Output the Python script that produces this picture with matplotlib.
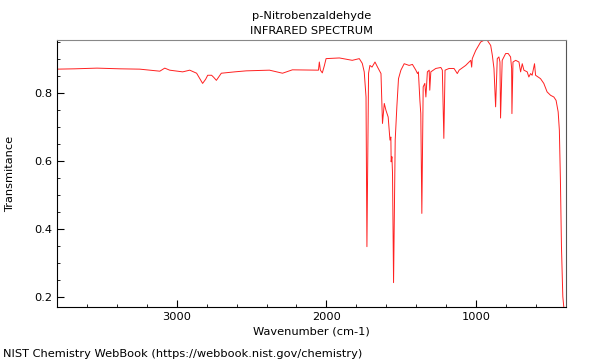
import matplotlib
matplotlib.use("Agg")
from matplotlib import pyplot as plt
from matplotlib import ticker

# spectrum (wavenumber cm-1, transmittance)
wavenumber = [3800, 3680, 3533, 3380, 3247, 3113, 3080, 3047, 2960, 2913,
              2867, 2827, 2807, 2793, 2767, 2753, 2735, 2702, 2613, 2535,
              2380, 2293, 2227, 2069, 2053, 2047, 2040, 2027, 2013, 2002,
              1913, 1827, 1780, 1760, 1747, 1735, 1729, 1718, 1709, 1695,
              1675, 1658, 1635, 1625, 1613, 1602, 1587, 1575, 1569, 1567,
              1562, 1558, 1551, 1540, 1529, 1518, 1502, 1480, 1447, 1425,
              1402, 1391, 1385, 1375, 1369, 1362, 1353, 1342, 1335, 1325,
              1313, 1309, 1302, 1269, 1235, 1225, 1215, 1207, 1180, 1147,
              1125, 1113, 1069, 1035, 1029, 1025, 1002, 969, 947, 925,
              902, 891, 880, 869, 858, 847, 840, 836, 825, 802,
              785, 769, 762, 760, 753, 735, 713, 702, 691, 680,
              658, 647, 635, 625, 609, 602, 569, 547, 525, 502,
              480, 465, 451, 443, 436, 429, 420, 413]
transmittance = [0.871, 0.872, 0.874, 0.872, 0.871, 0.865, 0.874, 0.868, 0.863, 0.868,
                 0.859, 0.829, 0.841, 0.853, 0.853, 0.847, 0.838, 0.859, 0.863, 0.866,
                 0.868, 0.859, 0.869, 0.868, 0.868, 0.892, 0.868, 0.860, 0.882, 0.902,
                 0.904, 0.897, 0.902, 0.888, 0.863, 0.789, 0.348, 0.859, 0.882, 0.877,
                 0.892, 0.877, 0.858, 0.711, 0.770, 0.750, 0.730, 0.662, 0.671, 0.598,
                 0.613, 0.565, 0.242, 0.662, 0.760, 0.843, 0.868, 0.887, 0.882, 0.885,
                 0.868, 0.858, 0.863, 0.779, 0.740, 0.446, 0.819, 0.829, 0.789, 0.863,
                 0.868, 0.809, 0.863, 0.873, 0.876, 0.868, 0.667, 0.868, 0.873, 0.873,
                 0.858, 0.868, 0.882, 0.897, 0.877, 0.902, 0.926, 0.951, 0.956, 0.956,
                 0.941, 0.912, 0.873, 0.760, 0.902, 0.907, 0.892, 0.727, 0.897, 0.917,
                 0.917, 0.907, 0.873, 0.740, 0.892, 0.897, 0.892, 0.863, 0.887, 0.868,
                 0.863, 0.848, 0.858, 0.853, 0.887, 0.853, 0.843, 0.829, 0.804, 0.794,
                 0.789, 0.779, 0.745, 0.691, 0.544, 0.348, 0.201, 0.168]

fs = 8.2

fig = plt.figure(figsize=(6, 3.6), dpi=100)
ax = fig.add_axes([0.095, 0.147, 0.848, 0.742])

ax.plot(wavenumber, transmittance, color='#ff2020', lw=0.7)

ax.set_xlim(3800, 400)
ax.set_ylim(0.17, 0.957)

ax.xaxis.set_major_locator(ticker.MultipleLocator(1000))
ax.xaxis.set_minor_locator(ticker.MultipleLocator(200))
ax.yaxis.set_major_locator(ticker.MultipleLocator(0.2))
ax.yaxis.set_minor_locator(ticker.MultipleLocator(0.05))
ax.yaxis.set_major_formatter(ticker.FormatStrFormatter('%g'))
ax.tick_params(which='both', direction='in', labelsize=fs)
ax.tick_params(which='major', length=5)
ax.tick_params(which='minor', length=2.5)
for s in ax.spines.values():
    s.set_linewidth(0.8)
ax.spines['top'].set_color('#888888')
ax.spines['right'].set_color('#555555')

ax.set_xlabel('Wavenumber (cm-1)', fontsize=fs, labelpad=3.5)
ax.set_ylabel('Transmitance', fontsize=fs, labelpad=14)
ax.set_title('p-Nitrobenzaldehyde\nINFRARED SPECTRUM', fontsize=fs, pad=4,
             linespacing=1.7)
fig.text(0.005, 0.008, 'NIST Chemistry WebBook (https://webbook.nist.gov/chemistry)', fontsize=fs)

fig.savefig('out.png', dpi=100)
